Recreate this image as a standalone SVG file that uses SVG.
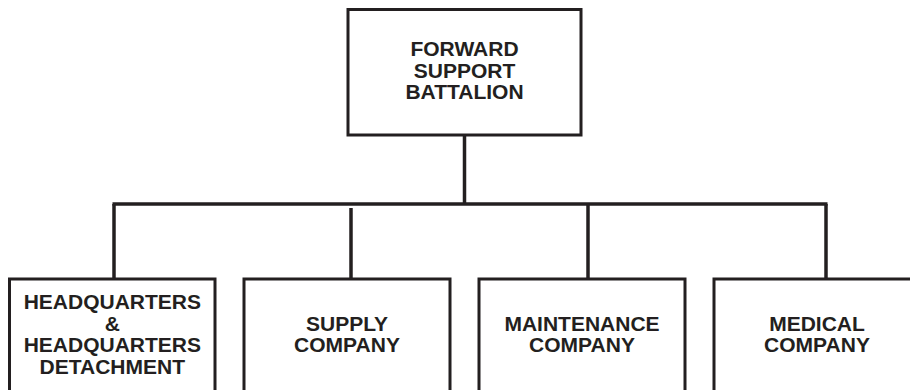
<svg xmlns="http://www.w3.org/2000/svg" width="910" height="390" viewBox="0 0 910 390">
<style>
.box{fill:#ffffff;stroke:#231f20;stroke-width:3}
.ln{stroke:#231f20;stroke-width:3.5;fill:none;stroke-linecap:butt}
.t{font-family:"Liberation Sans",Arial,sans-serif;font-weight:bold;font-size:21px;fill:#231f20;text-anchor:middle}
</style>
<rect width="910" height="390" fill="#ffffff"/>
<g id="connectors">
<line class="ln" x1="464.5" y1="135" x2="464.5" y2="204"/>
<line class="ln" x1="112.5" y1="204" x2="827.5" y2="204"/>
<line class="ln" x1="114" y1="204" x2="114" y2="279"/>
<line class="ln" x1="351" y1="208" x2="351" y2="279"/>
<line class="ln" x1="588" y1="204" x2="588" y2="279"/>
<line class="ln" x1="826" y1="204" x2="826" y2="279"/>
</g>
<g id="fsb">
<rect class="box" x="348" y="9.5" width="233" height="125.5"/>
<text class="t" x="464.5" y="56">FORWARD</text>
<text class="t" x="464.5" y="77.5">SUPPORT</text>
<text class="t" x="464.5" y="99">BATTALION</text>
</g>
<g id="hhd">
<rect class="box" x="9.5" y="279" width="205.5" height="130"/>
<text class="t" x="112.3" y="309.3">HEADQUARTERS</text>
<text class="t" x="112.3" y="330.5">&amp;</text>
<text class="t" x="112.3" y="352.3">HEADQUARTERS</text>
<text class="t" x="112.3" y="374.3">DETACHMENT</text>
</g>
<g id="supply">
<rect class="box" x="244" y="279" width="206" height="130"/>
<text class="t" x="347" y="331">SUPPLY</text>
<text class="t" x="347" y="352.3">COMPANY</text>
</g>
<g id="maintenance">
<rect class="box" x="479" y="279" width="206" height="130"/>
<text class="t" x="582" y="331">MAINTENANCE</text>
<text class="t" x="582" y="352.3">COMPANY</text>
</g>
<g id="medical">
<rect class="box" x="714" y="279" width="206" height="130"/>
<text class="t" x="817" y="331">MEDICAL</text>
<text class="t" x="817" y="352.3">COMPANY</text>
</g>
</svg>
